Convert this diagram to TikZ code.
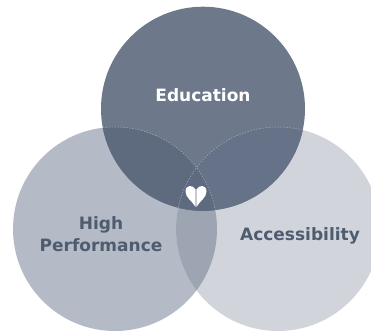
\documentclass[tikz,border=0pt]{standalone}
\usepackage{fontspec}
\setmainfont{DejaVu Sans}
\definecolor{cTop}{HTML}{6D798B}
\definecolor{cLeft}{HTML}{B5BBC6}
\definecolor{cRight}{HTML}{D1D4DA}
\definecolor{cTL}{HTML}{5E6B7F}
\definecolor{cTR}{HTML}{657287}
\definecolor{cLR}{HTML}{9EA5B2}
\definecolor{cMid}{HTML}{5D6A80}
\definecolor{cText}{HTML}{4F5C70}
\definecolor{cDash}{HTML}{A3ACBA}
\tikzset{
  lbl/.style={font=\fontsize{17}{21.5}\selectfont\bfseries, inner sep=0pt, align=center},
  edge/.style={draw=cDash, line width=0.5pt, dash pattern=on 1.5pt off 1.5pt}
}
\begin{document}
\begin{tikzpicture}[x=1pt,y=-1pt]
\useasboundingbox (0,0) rectangle (371,332);
\clip (0,0) rectangle (371,332);
\def\R{102}
\coordinate (T) at (203,108.7);
\coordinate (L) at (115,229);
\coordinate (Rc) at (278,229);
% base circles
\fill[cLeft] (L) circle (\R);
\fill[cRight] (Rc) circle (\R);
\begin{scope}
  \clip (L) circle (\R);
  \fill[cLR] (Rc) circle (\R);
\end{scope}
\fill[cTop] (T) circle (\R);
\begin{scope}
  \clip (T) circle (\R);
  \fill[cTL] (L) circle (\R);
  \fill[cTR] (Rc) circle (\R);
  \begin{scope}
    \clip (L) circle (\R);
    \fill[cMid] (Rc) circle (\R);
  \end{scope}
  \draw[edge] (L) circle (\R);
  \draw[edge] (Rc) circle (\R);
\end{scope}
% heart
\fill[white] (195.7,189.5) .. controls (193,184.5) and (185.5,184.5) .. (185.5,191.5)
  .. controls (185.5,197.5) and (192,201) .. (195.7,207) -- cycle;
\fill[white] (196.3,189.5) .. controls (199,184.5) and (206.5,184.5) .. (206.5,191.5)
  .. controls (206.5,197.5) and (200,201) .. (196.3,207) -- cycle;
% labels
\node[lbl, text=white, anchor=base] (edu) at (203,101.7) {Education};
\node[lbl, text=cText] (hp) at (101,234) {High\\Performance};
\node[lbl, text=cText, anchor=base] (acc) at (300,240.5) {Accessibility};
\end{tikzpicture}
\end{document}
